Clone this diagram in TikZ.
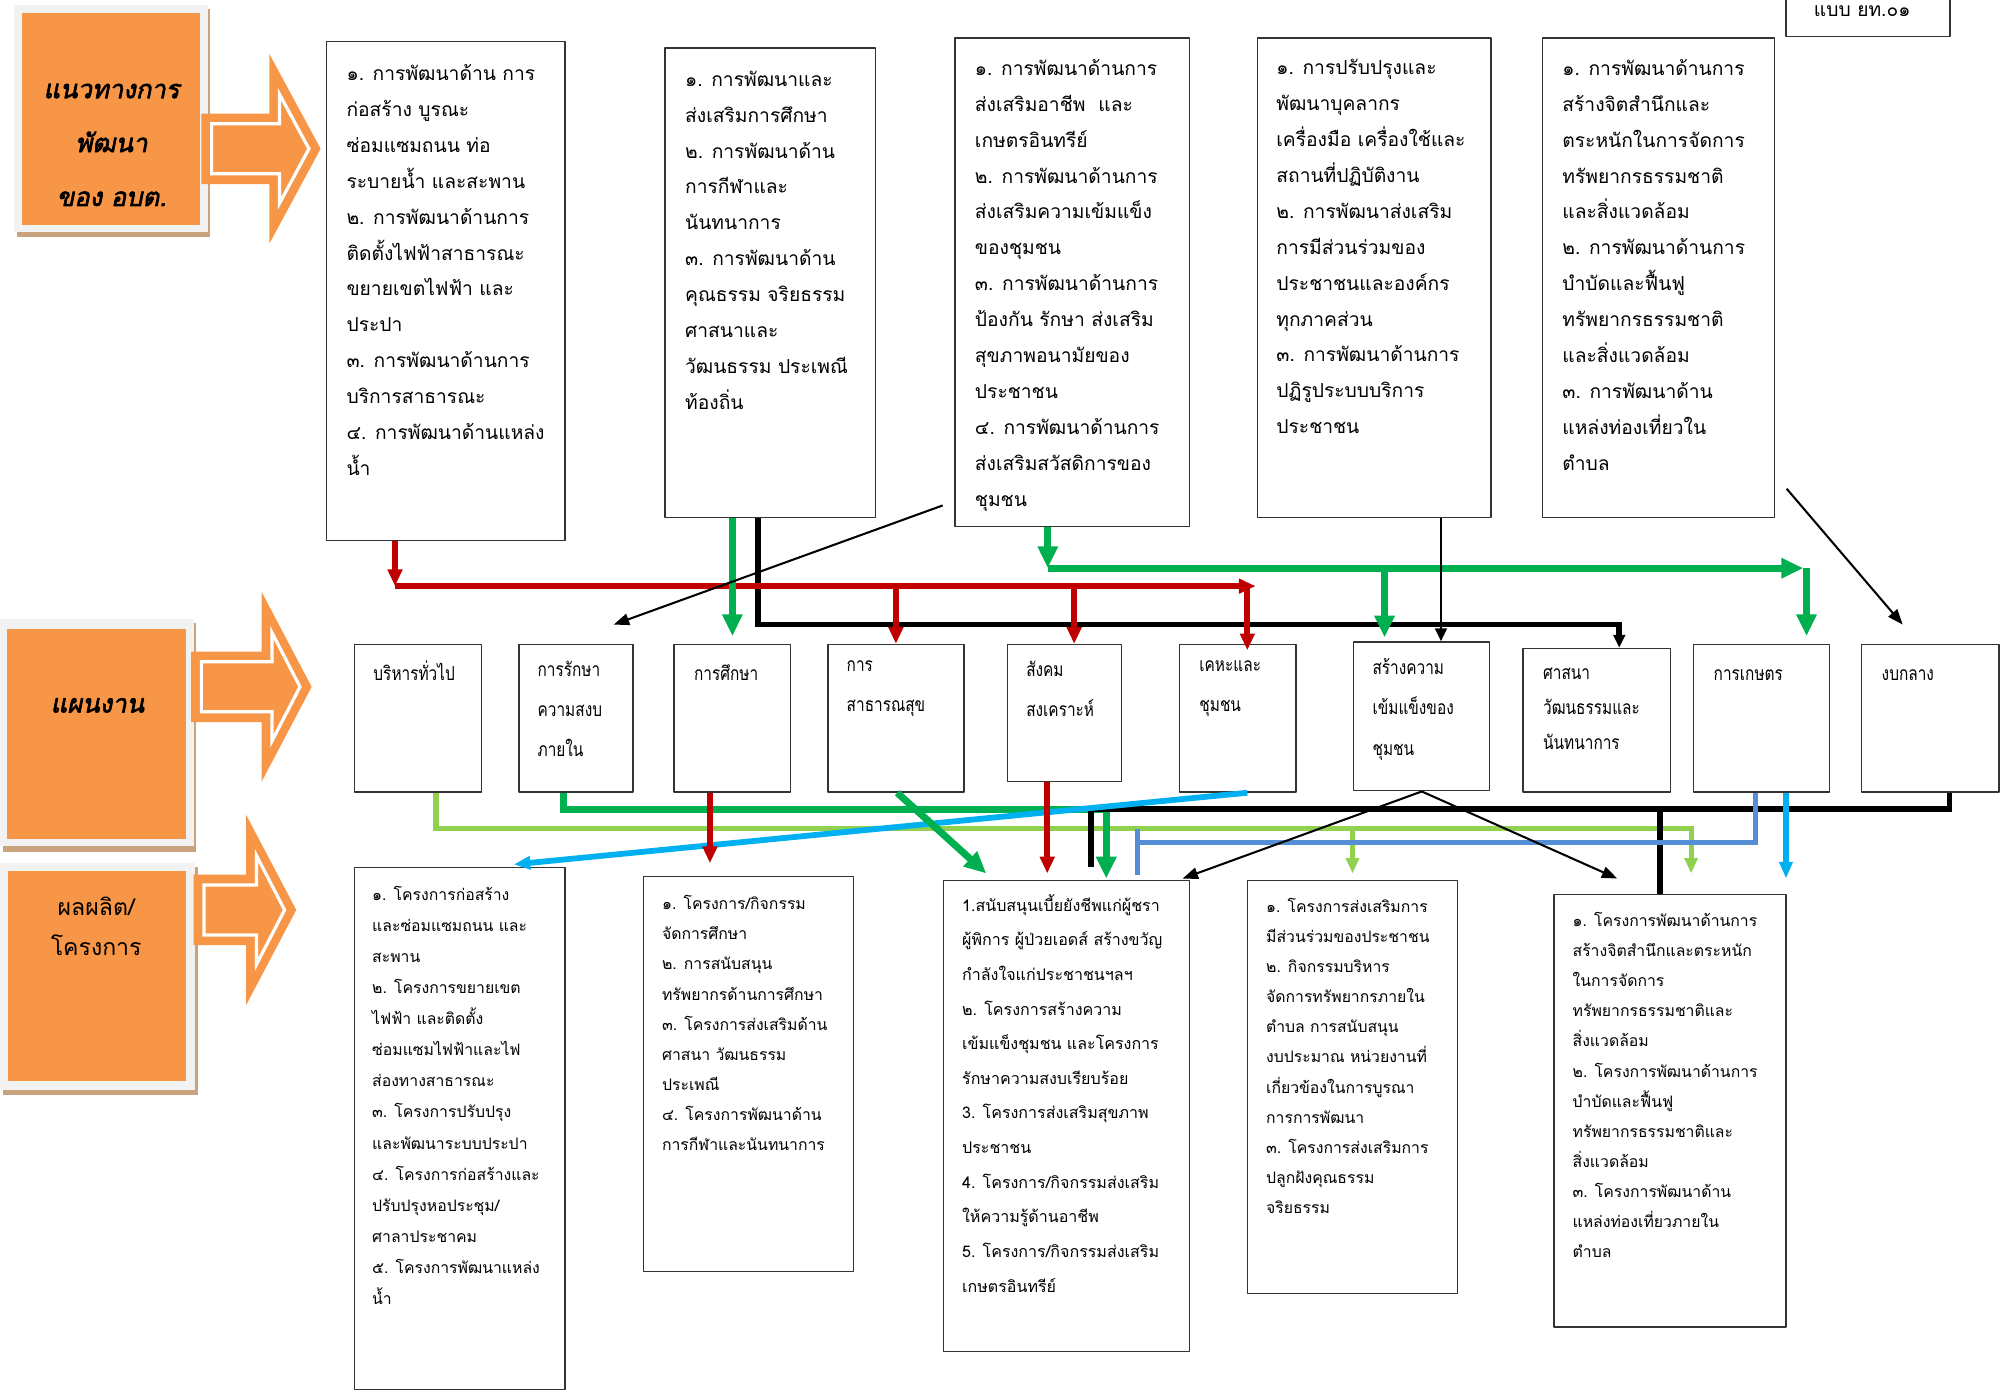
\documentclass[tikz,border=0pt]{standalone}
\usepackage{fontspec}
\newfontfamily\thai[Script=Thai]{Loma}
\newfontfamily\thainarrow[Script=Thai,FakeStretch=0.8]{Loma}
\newfontfamily\thaibold[Script=Thai,FakeBold=2.5,FakeSlant=0.2]{Loma}
\usetikzlibrary{arrows.meta}
\definecolor{orangefill}{HTML}{F79646}
\definecolor{framegray}{HTML}{F2F2F2}
\definecolor{shadowbrown}{HTML}{C9A27E}
\definecolor{darkred}{HTML}{C00000}
\definecolor{brightgreen}{HTML}{00B050}
\definecolor{lightgreen}{HTML}{92D050}
\definecolor{steelblue}{HTML}{558ED5}
\definecolor{skyblue}{HTML}{00B0F0}
\definecolor{boxgray}{HTML}{333333}
\begin{document}
\begin{tikzpicture}[x=1pt,y=-1pt,line join=round,
    plainbox/.style={draw=boxgray,line width=1.1pt,fill=white,anchor=north west,inner sep=0pt},
    orangebox/.style={fill=orangefill,anchor=north west,inner sep=0pt},
    headtext/.style={font=\thaibold\fontsize{20}{42}\selectfont,align=center,inner sep=0pt},
    toptext/.style={anchor=north west,inner sep=0pt,align=left,
      font=\thai\fontsize{15}{28}\selectfont,execute at begin node={\rule{0pt}{15pt}}},
    midtext/.style={anchor=north west,inner sep=0pt,align=left,
      font=\thainarrow\fontsize{15}{31.5}\selectfont,execute at begin node={\rule{0pt}{15pt}}},
    lowtext/.style={anchor=north west,inner sep=0pt,align=left,
      font=\thai\fontsize{12.3}{23.5}\selectfont,execute at begin node={\rule{0pt}{12pt}}},
    redline/.style={draw=darkred,line width=4.5pt,line join=miter,-{Triangle[length=13pt,width=11pt]}},
    greenline/.style={draw=brightgreen,line width=5.5pt,line join=miter,-{Triangle[length=17pt,width=15pt]}},
    busline/.style={draw=black,line width=4.5pt,line join=miter},
    limeline/.style={draw=lightgreen,line width=4pt,line join=miter,-{Triangle[length=12pt,width=10pt]}},
    steelline/.style={draw=steelblue,line width=4pt,line join=miter},
    cyanline/.style={draw=skyblue,line width=4.5pt,-{Triangle[length=13pt,width=10pt]}},
    thinline/.style={draw=black,line width=1.6pt,-{Triangle[length=12pt,width=9pt]}},
    blacktip/.style={-{Triangle[length=10pt,width=9pt]}}]
\useasboundingbox (0,0) rectangle (1568,1085);

% orange label boxes
\fill[shadowbrown] (13,7) rectangle (164,185);
\fill[framegray] (11,4) rectangle (162,181);
\node[orangebox,minimum width=139pt,minimum height=165pt] (guide) at (17,10) {};
\node[headtext] (guidetext) at (87,113) {แนวทางการ\\พัฒนา\\ของ อบต.};
\fill[shadowbrown] (2,486) rectangle (153,664);
\fill[framegray] (0,483) rectangle (151,660);
\node[orangebox,minimum width=140pt,minimum height=164pt] (plan) at (5,490) {};
\node[headtext] (plantext) at (76,550) {แผนงาน};
\fill[shadowbrown] (2,676) rectangle (154,854);
\fill[framegray] (0,673) rectangle (152,850);
\node[orangebox,minimum width=139pt,minimum height=164pt] (output) at (6,679) {};
\node[font=\thai\fontsize{18}{31}\selectfont,align=center,inner sep=0pt] (outputtext) at (75,722) {ผลผลิต/\\โครงการ};

% big arrows
\fill[orangefill] (157,88.5)--(210,88.5)--(210,42)--(250,116)--(210,190)--(210,143.5)--(157,143.5)--cycle;
\draw[white,line width=2.5pt,line join=miter] (165,96.5)--(218,96.5)--(218,73.6)--(240.9,116)--(218,158.4)--(218,135.5)--(165,135.5)--cycle;
\fill[orangefill] (149,508)--(204,508)--(204,461.5)--(243,535.5)--(204,609.5)--(204,563)--(149,563)--cycle;
\draw[white,line width=2.5pt,line join=miter] (157,516)--(212,516)--(212,493.1)--(233.9,535.5)--(212,577.9)--(212,555)--(157,555)--cycle;
\fill[orangefill] (151,682)--(192,682)--(192,635.5)--(231,709.5)--(192,783.5)--(192,737)--(151,737)--cycle;
\draw[white,line width=2.5pt,line join=miter] (159,690)--(200,690)--(200,667.1)--(221.9,709.5)--(200,751.9)--(200,729)--(159,729)--cycle;

% top row
\node[plainbox,minimum width=128pt,minimum height=32pt] (form) at (1392,-4) {};
\node[font=\thai\fontsize{15}{18}\selectfont,inner sep=0pt] (formtext) at (1452,9) {แบบ ยท.๐๑};
\node[plainbox,minimum width=186pt,minimum height=389pt] (b1) at (254,32) {};
\node[plainbox,minimum width=164pt,minimum height=366pt] (b2) at (518,37) {};
\node[plainbox,minimum width=183pt,minimum height=381pt] (b3) at (744,29) {};
\node[plainbox,minimum width=182pt,minimum height=374pt] (b4) at (980,29) {};
\node[plainbox,minimum width=181pt,minimum height=374pt] (b5) at (1202,29) {};
\node[toptext] (b1t) at (270,50) {๑. การพัฒนาด้าน การ\\ก่อสร้าง บูรณะ\\ซ่อมแซมถนน ท่อ\\ระบายน้ำ และสะพาน\\๒. การพัฒนาด้านการ\\ติดตั้งไฟฟ้าสาธารณะ\\ขยายเขตไฟฟ้า และ\\ประปา\\๓. การพัฒนาด้านการ\\บริการสาธารณะ\\๔. การพัฒนาด้านแหล่ง\\น้ำ};
\node[toptext] (b2t) at (534,55) {๑. การพัฒนาและ\\ส่งเสริมการศึกษา\\๒. การพัฒนาด้าน\\การกีฬาและ\\นันทนาการ\\๓. การพัฒนาด้าน\\คุณธรรม จริยธรรม\\ศาสนาและ\\วัฒนธรรม ประเพณี\\ท้องถิ่น};
\node[toptext] (b3t) at (760,46) {๑. การพัฒนาด้านการ\\ส่งเสริมอาชีพ\ \ และ\\เกษตรอินทรีย์\\๒. การพัฒนาด้านการ\\ส่งเสริมความเข้มแข็ง\\ของชุมชน\\๓. การพัฒนาด้านการ\\ป้องกัน รักษา ส่งเสริม\\สุขภาพอนามัยของ\\ประชาชน\\๔. การพัฒนาด้านการ\\ส่งเสริมสวัสดิการของ\\ชุมชน};
\node[toptext] (b4t) at (995,46) {๑. การปรับปรุงและ\\พัฒนาบุคลากร\\เครื่องมือ เครื่องใช้และ\\สถานที่ปฏิบัติงาน\\๒. การพัฒนาส่งเสริม\\การมีส่วนร่วมของ\\ประชาชนและองค์กร\\ทุกภาคส่วน\\๓. การพัฒนาด้านการ\\ปฏิรูประบบบริการ\\ประชาชน};
\node[toptext] (b5t) at (1218,46) {๑. การพัฒนาด้านการ\\สร้างจิตสำนึกและ\\ตระหนักในการจัดการ\\ทรัพยากรธรรมชาติ\\และสิ่งแวดล้อม\\๒. การพัฒนาด้านการ\\บำบัดและฟื้นฟู\\ทรัพยากรธรรมชาติ\\และสิ่งแวดล้อม\\๓. การพัฒนาด้าน\\แหล่งท่องเที่ยวใน\\ตำบล};

% middle row
\node[plainbox,minimum width=99pt,minimum height=115pt] (m1) at (276,502) {};
\node[plainbox,minimum width=89pt,minimum height=115pt] (m2) at (404,502) {};
\node[plainbox,minimum width=91pt,minimum height=115pt] (m3) at (525,502) {};
\node[plainbox,minimum width=106pt,minimum height=115pt] (m4) at (645,502) {};
\node[plainbox,minimum width=89pt,minimum height=107pt] (m5) at (785,502) {};
\node[plainbox,minimum width=91pt,minimum height=115pt] (m6) at (919,502) {};
\node[plainbox,minimum width=106pt,minimum height=116pt] (m7) at (1055,500) {};
\node[plainbox,minimum width=115pt,minimum height=112pt] (m8) at (1187,505) {};
\node[plainbox,minimum width=106pt,minimum height=115pt] (m9) at (1320,502) {};
\node[plainbox,minimum width=107pt,minimum height=115pt] (m10) at (1451,502) {};
\node[midtext] (m1t) at (291,515) {บริหารทั่วไป};
\node[midtext] (m2t) at (419,515) {การรักษา\\ความสงบ\\ภายใน};
\node[midtext] (m3t) at (541,515) {การศึกษา};
\node[midtext] (m4t) at (660,515) {การ\\สาธารณสุข};
\node[midtext] (m5t) at (800,515) {สังคม\\สงเคราะห์};
\node[midtext] (m6t) at (935,515) {เคหะและ\\ชุมชน};
\node[midtext] (m7t) at (1070,513) {สร้างความ\\เข้มแข็งของ\\ชุมชน};
\node[midtext,font=\thainarrow\fontsize{15}{27.3}\selectfont] (m8t) at (1203,521) {ศาสนา\\วัฒนธรรมและ\\นันทนาการ};
\node[midtext] (m9t) at (1336,515) {การเกษตร};
\node[midtext] (m10t) at (1467,515) {งบกลาง};

% bottom row
\node[plainbox,minimum width=164pt,minimum height=407pt] (p1) at (276,676) {};
\node[plainbox,minimum width=164pt,minimum height=308pt] (p2) at (501,683) {};
\node[plainbox,minimum width=192pt,minimum height=367pt] (p3) at (735,686) {};
\node[plainbox,minimum width=164pt,minimum height=322pt] (p4) at (972,686) {};
\node[plainbox,minimum width=181pt,minimum height=337pt] (p5) at (1211,697) {};
\node[lowtext,font=\thai\fontsize{12.3}{24.2}\selectfont] (p1t) at (290,691) {๑. โครงการก่อสร้าง\\และซ่อมแซมถนน และ\\สะพาน\\๒. โครงการขยายเขต\\ไฟฟ้า และติดตั้ง\\ซ่อมแซมไฟฟ้าและไฟ\\ส่องทางสาธารณะ\\๓. โครงการปรับปรุง\\และพัฒนาระบบประปา\\๔. โครงการก่อสร้างและ\\ปรับปรุงหอประชุม/\\ศาลาประชาคม\\๕. โครงการพัฒนาแหล่ง\\น้ำ};
\node[lowtext] (p2t) at (516,698) {๑. โครงการ/กิจกรรม\\จัดการศึกษา\\๒. การสนับสนุน\\ทรัพยากรด้านการศึกษา\\๓. โครงการส่งเสริมด้าน\\ศาสนา วัฒนธรรม\\ประเพณี\\๔. โครงการพัฒนาด้าน\\การกีฬาและนันทนาการ};
\node[lowtext,font=\thai\fontsize{12.5}{27}\selectfont] (p3t) at (750,697) {1.สนับสนุนเบี้ยยังชีพแก่ผู้ชรา\\ผู้พิการ ผู้ป่วยเอดส์ สร้างขวัญ\\กำลังใจแก่ประชาชนฯลฯ\\๒. โครงการสร้างความ\\เข้มแข็งชุมชน และโครงการ\\รักษาความสงบเรียบร้อย\\3. โครงการส่งเสริมสุขภาพ\\ประชาชน\\4. โครงการ/กิจกรรมส่งเสริม\\ให้ความรู้ด้านอาชีพ\\5. โครงการ/กิจกรรมส่งเสริม\\เกษตรอินทรีย์};
\node[lowtext] (p4t) at (987,700) {๑. โครงการส่งเสริมการ\\มีส่วนร่วมของประชาชน\\๒. กิจกรรมบริหาร\\จัดการทรัพยากรภายใน\\ตำบล การสนับสนุน\\งบประมาณ หน่วยงานที่\\เกี่ยวข้องในการบูรณา\\การการพัฒนา\\๓. โครงการส่งเสริมการ\\ปลูกฝังคุณธรรม\\จริยธรรม};
\node[lowtext] (p5t) at (1226,711) {๑. โครงการพัฒนาด้านการ\\สร้างจิตสำนึกและตระหนัก\\ในการจัดการ\\ทรัพยากรธรรมชาติและ\\สิ่งแวดล้อม\\๒. โครงการพัฒนาด้านการ\\บำบัดและฟื้นฟู\\ทรัพยากรธรรมชาติและ\\สิ่งแวดล้อม\\๓. โครงการพัฒนาด้าน\\แหล่งท่องเที่ยวภายใน\\ตำบล};

% upper connectors
\coordinate (kbus) at (591,487);
\coordinate (m8in) at ([xshift=17.5pt]m8.north);
\draw[busline,blacktip] (b2.south -| kbus) -- (kbus) -| (m8in);
\coordinate (redbus) at (308,457);
\coordinate (redend) at (979,457);
\coordinate (m5in) at ([xshift=7.5pt]m5.north);
\coordinate (m6in) at ([shift={(7.5,5)}]m6.north);
\draw[redline] (b1.south -| redbus) -- (redbus);
\draw[redline] (redbus) -- (redend);
\draw[redline] (redbus -| m4.north) -- (m4.north);
\draw[redline] (redbus -| m5in) -- (m5in);
\draw[redline] (redbus -| m6in) -- (m6in);
\draw[greenline] (b2.south -| m3.north) -- ([yshift=6pt]m3.north);
\coordinate (gbus) at (817,443);
\coordinate (gend) at (1406,443);
\coordinate (m9in) at ([shift={(35,-6)}]m9.north);
\coordinate (m7in) at ([shift={(-29,-3)}]m7.north);
\draw[greenline] (b3.south -| gbus) -- (gbus);
\draw[greenline] (gbus) -- (gend);
\draw[greenline] (gbus -| m9in) -- (m9in);
\draw[greenline] (gbus -| m7in) -- (m7in);
\coordinate (b4out) at ([xshift=52pt]b4.south);
\draw[black,line width=2pt,blacktip] (b4out) -- (b4out |- m7.north);
\draw[thinline] ([shift={(-9,-17)}]b3.south west) -- ([shift={(29.5,-15)}]m2.north);
\draw[thinline] ([shift={(9,-23)}]b5.south east) -- ([shift={(-21.5,-15)}]m10.north);

% lower connectors
\coordinate (limebus) at (340,646);
\coordinate (p5lime) at ([shift={(16.5,-16)}]p5.north);
\coordinate (p4lime) at ([yshift=5pt]p4.north);
\draw[limeline] (m1.south -| limebus) -- (limebus) -| (p5lime);
\draw[limeline] (p4lime |- limebus) -- (p4lime);
\coordinate (greenbus) at (439,631);
\coordinate (p3green) at ([shift={(31,-1)}]p3.north);
\draw[greenline] (m2.south -| greenbus) -- (greenbus) -| (p3green);
\coordinate (kbus2) at (1520,631);
\coordinate (p3k) at ([shift={(19,-10)}]p3.north);
\coordinate (p5k) at ([xshift=-7.5pt]p5.north);
\draw[busline] (m10.south -| kbus2) -- (kbus2) -| (p3k);
\draw[busline] (p5k |- kbus2) -- (p5k);
\coordinate (steelbus) at (887,657);
\draw[steelline] ([xshift=-5pt]m9.south) |- (steelbus);
\draw[steelline] ([yshift=11pt]steelbus) -- ([yshift=-25pt]steelbus);
\draw[cyanline] ([xshift=19pt]m9.south) -- ([shift={(90.5,-12)}]p5.north);
\draw[cyanline] ([xshift=7.5pt]m6.south) -- ([shift={(42,-2)}]p1.north);
\draw[greenline] ([xshift=1pt]m4.south) -- ([shift={(34,-5)}]p3.north west);
\coordinate (p2red) at ([shift={(-30,-10)}]p2.north);
\coordinate (p3red) at ([shift={(-15,-5)}]p3.north);
\draw[redline] (p2red |- m3.south) -- (p2red);
\draw[redline] (p3red |- m5.south) -- (p3red);
\draw[thinline] (m7.south) -- ([shift={(-6,-1)}]p3.north east);
\draw[thinline] (m7.south) -- ([shift={(50,-12)}]p5.north west);
\end{tikzpicture}
\end{document}
